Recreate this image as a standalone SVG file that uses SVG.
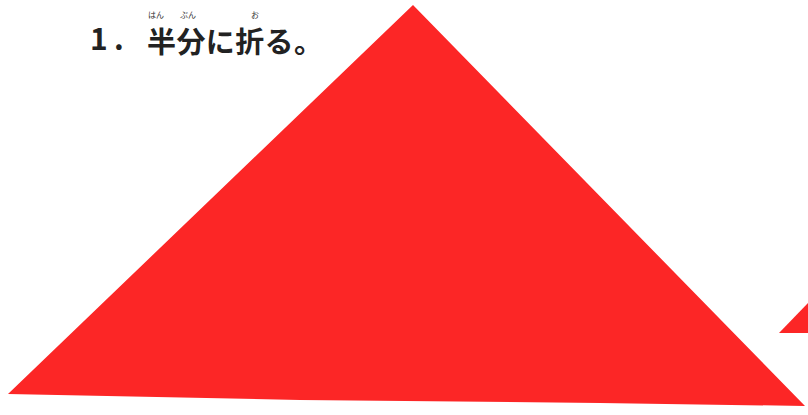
<svg xmlns="http://www.w3.org/2000/svg" width="808" height="415" viewBox="0 0 808 415">
<style>
.t{font-family:"Noto Sans CJK JP","Noto Sans",sans-serif;font-weight:bold;fill:#222}
.r{font-family:"Noto Sans CJK JP",sans-serif;font-size:8px;fill:#333}
.paper{fill:#fc2626}
</style>
<rect width="808" height="415" fill="#ffffff"/>
<g id="title">
<text class="t" x="90" y="50" font-size="30">1</text>
<text class="t" x="114" y="50" font-size="30">.</text>
<text class="t" x="147" y="53" font-size="29" textLength="176" lengthAdjust="spacing">半分に折る。</text>
<text class="r" x="148" y="18">はん</text>
<text class="r" x="180" y="18">ぶん</text>
<text class="r" x="251" y="18">お</text>
</g>
<g id="triangle">
<polygon class="paper" points="8,394 413,5 805,406 600,403 300,400"/>
</g>
<g id="small-triangle">
<polygon class="paper" points="779,333 808,303 808,333"/>
</g>
</svg>
